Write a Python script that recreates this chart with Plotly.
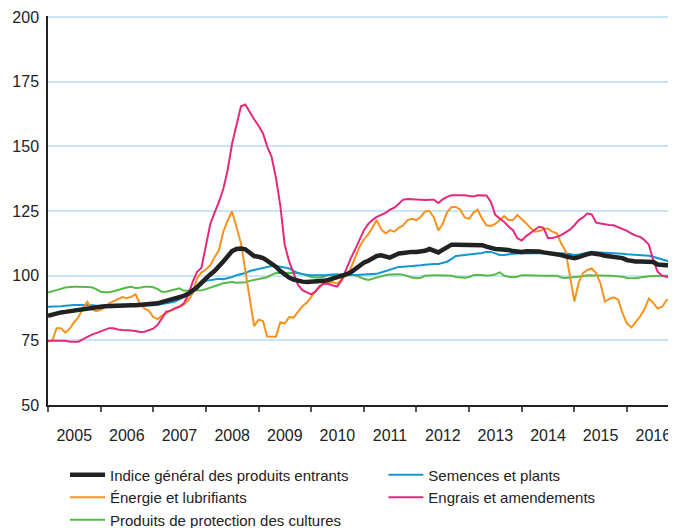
import pandas as pd
import plotly.graph_objects as go

# -------------------------
# DATA (monthly, Jan 2005 - Dec 2016, base 100 = 2010)
# -------------------------
months = pd.date_range("2005-01-01", "2016-12-01", freq="MS")
years = list(range(2005, 2017))

indice = [
    84.5, 85.0, 85.5, 85.8, 86.0, 86.3, 86.5, 86.7, 87.0, 87.2, 87.5, 87.8,
    88.0, 88.2, 88.3, 88.5, 88.5, 88.5, 88.6, 88.6, 88.6, 88.7, 88.7, 88.7,
    88.8, 89.3, 89.8, 90.2, 90.6, 91.0, 91.6, 92.2, 93.0, 94.0, 95.5, 97.2,
    99.0, 100.5, 101.8, 103.5, 105.5, 107.5, 109.5, 110.3, 110.5, 110.2, 108.6, 107.6,
    107.3, 106.8, 105.8, 104.8, 103.5, 101.8, 100.5, 99.3, 98.5, 98.0, 97.7, 97.6,
    97.6, 97.6, 97.7, 98.0, 98.4, 98.9, 99.2, 99.7, 100.5, 101.2, 102.5, 104.0,
    105.0, 105.8, 106.7, 107.6, 107.9, 107.4, 107.0, 107.8, 108.6, 108.8, 109.2, 109.2,
    109.2, 109.2, 109.6, 110.3, 109.8, 109.0, 110.0, 111.2, 112.0, 112.0, 112.0, 112.0,
    112.0, 112.0, 112.0, 111.8, 111.2, 110.6, 110.3, 110.2, 110.2, 109.9, 109.5, 109.3,
    109.2, 109.4, 109.5, 109.5, 109.3, 109.0, 108.8, 108.6, 108.3, 108.0, 107.5, 107.2,
    106.8, 107.2, 107.9, 108.3, 108.7, 108.6, 108.2, 107.7, 107.5, 107.4, 107.3, 106.8,
    106.0, 105.6, 105.5, 105.5, 105.5, 105.5, 105.3, 104.3, 104.0, 104.0, 104.0, 103.8,
]

semences = [
    88.0, 88.0, 88.0, 88.2, 88.4, 88.6, 88.7, 88.7, 88.7, 88.7, 88.6, 88.4,
    88.2, 88.5, 88.7, 88.8, 88.8, 88.8, 88.8, 88.6, 88.4, 88.4, 88.4, 88.5,
    88.6, 88.8, 89.0, 89.3, 89.6, 90.0, 90.8, 92.0, 93.5, 94.8, 95.7, 96.5,
    98.0, 98.3, 98.6, 98.8, 98.6, 99.0, 99.5, 100.2, 100.5, 101.0, 101.8, 102.2,
    102.6, 103.0, 103.4, 103.7, 103.7, 103.5, 103.2, 102.8, 101.8, 101.0, 100.6, 100.3,
    100.2, 100.2, 100.2, 100.2, 100.2, 100.2, 100.2, 100.2, 100.2, 100.3, 100.3, 100.4,
    100.5, 100.5, 100.6, 100.7, 101.2, 101.8, 102.5, 103.0, 103.4, 103.5, 103.6, 103.6,
    103.8, 104.0, 104.2, 104.4, 104.5, 104.5, 104.8, 105.4, 106.5, 107.6, 107.8, 108.0,
    108.2, 108.3, 108.5, 108.8, 109.2, 109.2, 108.6, 108.0, 108.0, 108.3, 108.5, 108.6,
    108.7, 108.7, 108.7, 108.7, 108.7, 108.7, 108.7, 108.7, 108.7, 108.7, 108.6, 108.4,
    108.0, 108.2, 108.6, 109.0, 109.2, 109.1, 109.0, 109.0, 109.0, 108.9, 108.7, 108.5,
    108.3, 108.2, 108.1, 108.0, 107.9, 107.7, 107.3, 106.8, 106.3, 105.6, 105.2, 104.8,
]

energie = [
    74.5, 75.0, 79.7, 79.7, 78.0, 79.5, 82.0, 84.0, 87.5, 89.9, 87.0, 86.3,
    86.8, 87.9, 89.3, 90.2, 91.0, 91.7, 91.3, 91.8, 92.8, 89.0, 87.3, 86.5,
    84.0, 83.2, 84.5, 85.5, 86.5, 87.5, 88.0, 88.8, 90.5, 93.2, 99.0, 101.2,
    102.4, 104.0, 107.0, 109.9, 117.0, 121.5, 124.8, 119.0, 112.5, 102.0, 91.0, 80.5,
    83.0, 82.5, 76.5, 76.4, 76.4, 82.0, 81.5, 84.0, 83.8, 86.0, 88.2, 89.5,
    92.0, 94.0, 95.5, 97.3, 97.6, 97.5, 97.0, 98.5, 100.2, 102.6, 107.0, 111.0,
    114.0, 116.0, 118.5, 121.5, 118.0, 116.3, 117.6, 117.0, 118.5, 119.5, 121.5, 122.0,
    121.5, 122.8, 124.8, 125.0, 122.5, 117.5, 120.0, 124.5, 126.6, 126.6, 125.5, 122.5,
    122.0, 124.5, 125.5, 122.0, 119.5, 119.2, 120.0, 121.5, 123.0, 121.5, 121.5, 123.5,
    122.0, 120.2, 118.5, 117.0, 117.3, 118.0, 118.2, 117.0, 116.4, 112.5, 109.5, 100.0,
    90.0, 97.5, 101.0, 102.2, 102.8, 101.0, 97.0, 90.0, 91.0, 91.6, 90.7, 85.5,
    81.5, 80.0, 82.0, 84.2, 87.0, 91.2, 89.5, 87.3, 88.0, 90.5, 91.0, 93.0,
]

engrais = [
    74.8, 74.8, 75.0, 75.0, 74.8, 74.5, 74.5, 74.5, 75.5, 76.5, 77.2, 77.8,
    78.4, 79.0, 79.7, 79.7, 79.2, 79.0, 79.0, 78.8, 78.6, 78.2, 78.3, 78.8,
    79.5, 81.0, 83.5, 86.1, 86.5, 87.3, 88.0, 89.3, 92.5, 97.5, 101.5, 103.0,
    112.0, 120.0, 124.3, 128.5, 133.5, 141.0, 151.0, 158.5, 165.5, 166.2, 163.0, 160.5,
    158.0, 155.0, 150.0, 146.0, 138.0, 127.0, 112.0, 105.5, 101.0, 96.5, 94.4, 93.5,
    92.8, 94.0, 96.0, 97.0, 96.8, 96.2, 95.8, 98.3, 102.5, 106.5, 110.0, 113.5,
    117.5, 120.0, 121.5, 122.7, 123.5, 124.3, 125.5, 126.3, 127.8, 129.4, 129.6, 129.5,
    129.4, 129.3, 129.3, 129.4, 129.4, 128.1, 129.5, 130.5, 131.1, 131.1, 131.1, 131.1,
    130.8, 130.6, 131.1, 131.1, 131.0, 128.5, 123.5, 122.1, 120.8, 119.0, 117.6, 114.5,
    113.6, 115.3, 116.5, 117.8, 118.9, 118.5, 114.6, 114.6, 115.0, 115.7, 116.8, 117.8,
    119.5, 121.5, 122.5, 124.0, 123.7, 120.5, 120.2, 119.8, 119.6, 119.5, 118.8, 118.2,
    117.3, 116.3, 115.5, 115.0, 113.8, 112.0, 106.0, 101.5, 100.0, 99.6, 99.0, 99.3,
]

protection = [
    93.5, 93.9, 94.4, 94.9, 95.4, 95.7, 95.7, 95.7, 95.7, 95.7, 95.5, 94.8,
    93.8, 93.6, 93.6, 94.0, 94.5, 94.9, 95.4, 95.7, 95.2, 95.3, 95.7, 95.7,
    95.5, 94.8, 93.8, 93.8, 94.3, 94.7, 95.1, 94.2, 94.3, 94.4, 94.4, 94.4,
    94.8, 95.3, 95.8, 96.5, 97.1, 97.5, 97.6, 97.3, 97.4, 97.5, 98.0, 98.3,
    98.6, 99.0, 99.4, 100.3, 101.0, 101.1, 101.1, 101.1, 101.1, 101.0, 100.7, 100.2,
    99.5, 99.3, 99.3, 99.6, 100.3, 100.6, 100.6, 100.6, 100.6, 100.5, 100.2, 99.4,
    98.8, 98.3, 98.8, 99.4, 99.8, 100.2, 100.5, 100.6, 100.6, 100.4, 99.8, 99.3,
    99.0, 99.2, 100.0, 100.2, 100.2, 100.2, 100.2, 100.2, 100.0, 99.5, 99.3, 99.2,
    99.5, 100.2, 100.4, 100.2, 100.1, 100.2, 100.5, 101.3, 100.0, 99.6, 99.4, 99.6,
    100.2, 100.2, 100.1, 100.1, 100.0, 100.0, 100.0, 100.0, 100.0, 99.3, 99.1, 99.3,
    99.4, 99.6, 99.8, 100.2, 100.2, 100.2, 100.1, 100.0, 100.0, 99.9, 99.8, 99.6,
    99.1, 99.0, 99.0, 99.3, 99.6, 99.8, 99.9, 100.0, 100.0, 100.0, 100.0, 100.0,
]

y_ticks = [50, 75, 100, 125, 150, 175, 200]

# -------------------------
# FIGURE
# -------------------------
# drawn bottom to top; legend column + rank give the two-column legend layout
series = [
    ("Produits de protection des cultures", protection, "#56b947", 2, "legend", 3),
    ("Semences et plants", semences, "#1197d4", 2, "legend2", 1),
    ("Énergie et lubrifiants", energie, "#f7921e", 2, "legend", 2),
    ("Engrais et amendements", engrais, "#e4297c", 2, "legend2", 2),
    ("Indice général des produits entrants", indice, "#222222", 4.5, "legend", 1),
]

fig = go.Figure()
for name, vals, color, width, leg, rank in series:
    fig.add_trace(go.Scatter(
        x=months, y=vals, name=name, mode="lines",
        line=dict(color=color, width=width),
        legend=leg, legendrank=rank,
    ))

# reference line at 100
fig.add_hline(y=100, line=dict(color="#8a8a8a", width=1.6), layer="below")

legend_font = dict(family="Liberation Sans, Arial, sans-serif", size=15, color="#222")

# the page body has an 8px margin, so the figure is 8px smaller each way
fig.update_layout(
    width=668, height=520,
    margin=dict(l=40, r=0, t=8, b=123, autoexpand=False),
    paper_bgcolor="white", plot_bgcolor="white",
    font=dict(family="Liberation Sans, Arial, sans-serif", size=16, color="#222"),
    showlegend=True,
    legend=dict(x=0.0271, xanchor="left", y=-0.1375, yanchor="top",
                itemwidth=35, font=legend_font, tracegroupgap=0),
    legend2=dict(x=0.534, xanchor="left", y=-0.1375, yanchor="top",
                 itemwidth=35, font=legend_font, tracegroupgap=0),
)

fig.update_xaxes(
    range=["2005-01-01", "2016-12-06"],
    tickmode="array",
    tickvals=[pd.Timestamp(f"{y}-07-02") for y in years],
    ticktext=[str(y) for y in years],
    ticks="",
    ticklabelstandoff=15,
    showgrid=False,
    showline=True, linecolor="#222", linewidth=1.5,
    minor=dict(
        tickmode="array",
        tickvals=[pd.Timestamp(f"{y}-01-01") for y in years],
        ticks="outside", ticklen=5, tickwidth=1.5, tickcolor="#555",
        showgrid=False,
    ),
    zeroline=False,
    automargin=False,
)

fig.update_yaxes(
    range=[50, 200.4],
    tickvals=y_ticks,
    ticks="",
    ticklabelstandoff=4,
    showgrid=True, gridcolor="#c6e5f6", gridwidth=1.5,
    showline=True, linecolor="#222", linewidth=1.5,
    zeroline=False,
    automargin=False,
)

fig.write_html("out.html")
